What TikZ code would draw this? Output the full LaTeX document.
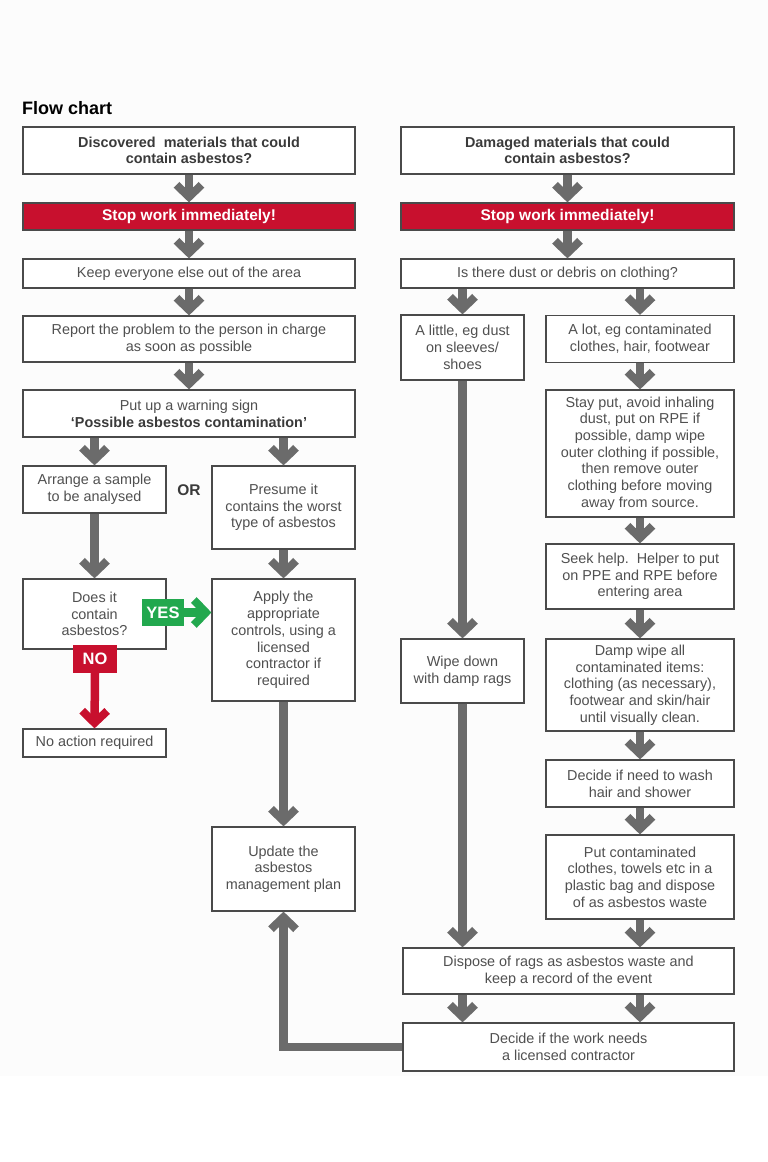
\documentclass[tikz,border=0pt]{standalone}
\usepackage{fontspec}
\setmainfont{Liberation Sans}
\usetikzlibrary{arrows.meta}
\definecolor{txt}{HTML}{505050}
\definecolor{btxt}{HTML}{3A3A3A}
\definecolor{bordc}{HTML}{4A4A4A}
\definecolor{arrc}{HTML}{6B6B6B}
\definecolor{stopred}{HTML}{C8102E}
\definecolor{yesgreen}{HTML}{22A84E}
\definecolor{bgc}{HTML}{FCFCFC}
\begin{document}
\begin{tikzpicture}[x=1pt,y=-1pt,
  box/.style={draw=bordc, line width=1.2pt, fill=white, text=txt, align=center,
    font=\fontsize{14.4}{16.7}\selectfont, inner sep=0pt},
  bbox/.style={box, text=btxt, font=\bfseries\fontsize{14.4}{16.7}\selectfont},
  stopbox/.style={draw=bordc, line width=1.2pt, fill=stopred, text=white, align=center,
    font=\bfseries\fontsize{15.5}{18}\selectfont, inner sep=0pt, minimum height=27pt},
  arr/.style={draw=arrc, line width=8.5pt, line join=miter,
    -{Straight Barb[sharp,length=12pt,width=25pt,line width=8pt]}},
  lab/.style={fill=#1, text=white, font=\bfseries\fontsize{16.5}{18}\selectfont, inner sep=0pt}
]
\useasboundingbox (0,0) rectangle (768,1162);
\fill[bgc] (0,0) rectangle (768,1076);

\node[anchor=base west, inner sep=0pt, font=\bfseries\fontsize{18}{20}\selectfont, text=black] (title) at (22,114) {Flow chart};

% left column
\node[bbox, minimum width=332pt, minimum height=47pt] (b1) at (189,150.5) {Discovered\ \ materials that could\\contain asbestos?};
\node[stopbox, minimum width=332pt] (s1) at (189,216.5) {Stop work immediately!};
\node[box, minimum width=332pt, minimum height=29pt] (b2) at (189,273.5) {Keep everyone else out of the area};
\node[box, minimum width=332pt, minimum height=46pt] (b3) at (189,339) {Report the problem to the person in charge\\as soon as possible};
\node[box, minimum width=332pt, minimum height=47pt] (b4) at (189,413.5) {Put up a warning sign\\\textcolor{btxt}{\bfseries`Possible asbestos contamination'}};
\node[box, minimum width=143pt, minimum height=47pt] (b5) at (94.5,489.5) {Arrange a sample\\to be analysed};
\node[font=\bfseries\fontsize{15.5}{18}\selectfont, text=btxt] (or) at (189,490) {OR};
\node[box, minimum width=143pt, minimum height=83pt] (b6) at (283.5,507.5) {Presume it\\contains the worst\\type of asbestos};
\node[box, minimum width=143pt, minimum height=70pt] (b7) at (94.5,614) {Does it\\contain\\asbestos?};
\node[box, minimum width=143pt, minimum height=122pt] (b8) at (283.5,640) {Apply the\\appropriate\\controls, using a\\licensed\\contractor if\\required};
\node[box, minimum width=143pt, minimum height=28pt] (b9) at (94.5,743) {No action required};
\node[box, minimum width=143pt, minimum height=84pt] (b10) at (283.5,869) {Update the\\asbestos\\management plan};

% right column
\node[bbox, minimum width=333pt, minimum height=47pt] (r1) at (567.5,150.5) {Damaged materials that could\\contain asbestos?};
\node[stopbox, minimum width=333pt] (s2) at (567.5,216.5) {Stop work immediately!};
\node[box, minimum width=333pt, minimum height=29pt] (r2) at (567.5,273.5) {Is there dust or debris on clothing?};
\node[box, minimum width=123pt, minimum height=65pt] (r3) at (462.5,347.5) {A little, eg dust\\on sleeves/\\shoes};
\node[box, minimum width=188pt, minimum height=47pt] (r4) at (640,339) {A lot, eg contaminated\\clothes, hair, footwear};
\node[box, minimum width=188pt, minimum height=127pt] (r5) at (640,453.5) {Stay put, avoid inhaling\\dust, put on RPE if\\possible, damp wipe\\outer clothing if possible,\\then remove outer\\clothing before moving\\away from source.};
\node[box, minimum width=188pt, minimum height=65pt] (r6) at (640,576.5) {Seek help.\ \ Helper to put\\on PPE and RPE before\\entering area};
\node[box, minimum width=123pt, minimum height=64pt] (r3b) at (462.5,671) {Wipe down\\with damp rags};
\node[box, minimum width=188pt, minimum height=92pt] (r7) at (640,685) {Damp wipe all\\contaminated items:\\clothing (as necessary),\\footwear and skin/hair\\until visually clean.};
\node[box, minimum width=188pt, minimum height=47pt] (r8) at (640,783.5) {Decide if need to wash\\hair and shower};
\node[box, minimum width=188pt, minimum height=84pt] (r9) at (640,877) {Put contaminated\\clothes, towels etc in a\\plastic bag and dispose\\of as asbestos waste};
\node[box, minimum width=331pt, minimum height=46pt] (r10) at (568.5,971) {Dispose of rags as asbestos waste and\\keep a record of the event};
\node[box, minimum width=331pt, minimum height=48pt] (r11) at (568.5,1047) {Decide if the work needs\\a licensed contractor};

% left arrows
\draw[arr] (b1) -- (s1);
\draw[arr] (s1) -- (b2);
\draw[arr] (b2) -- (b3);
\draw[arr] (b3) -- (b4);
\draw[arr] (b4.south -| b5) -- (b5);
\draw[arr] (b4.south -| b6) -- (b6);
\draw[arr] (b5) -- (b7);
\draw[arr] (b6) -- (b8);
\draw[arr] (b8) -- (b10);

% yes / no
\node[lab=yesgreen, minimum width=42pt, minimum height=27pt] (yes) at (163,612.5) {YES};
\draw[arr, draw=yesgreen] (yes.east) -- (b8.west |- yes.east);
\node[lab=stopred, minimum width=44pt, minimum height=28pt] (no) at (95,659) {NO};
\draw[arr, draw=stopred] (no.south) -- (b9.north);

% right arrows
\draw[arr] (r1) -- (s2);
\draw[arr] (s2) -- (r2);
\draw[arr] (r2.south -| r3) -- (r3);
\draw[arr] (r2.south -| r4) -- (r4);
\draw[arr] (r4) -- (r5);
\draw[arr] (r5) -- (r6);
\draw[arr] (r6) -- (r7);
\draw[arr] (r7) -- (r8);
\draw[arr] (r8) -- (r9);
\draw[arr] (r3) -- (r3b);
\draw[arr] (r3b.south) -- (r10.north -| r3b);
\draw[arr] (r9) -- (r10.north -| r9);
\draw[arr] (r10.south -| r3b) -- (r11.north -| r3b);
\draw[arr] (r10.south -| r9) -- (r11.north -| r9);
\draw[arr] (r11.west) -| (b10.south);
\end{tikzpicture}
\end{document}
